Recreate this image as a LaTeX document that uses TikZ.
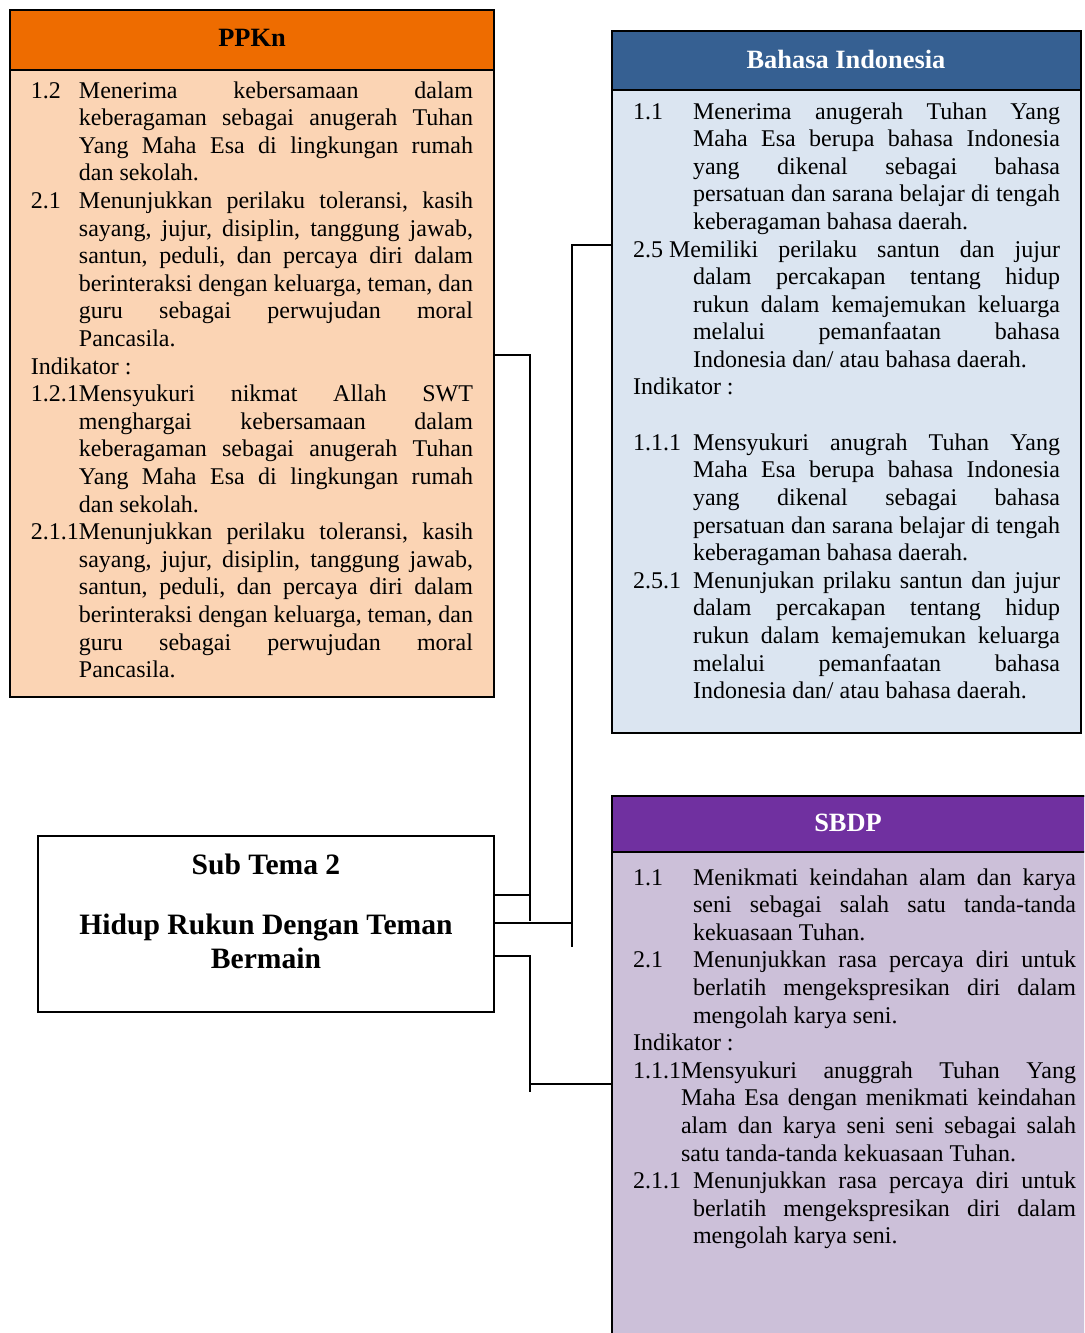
\documentclass[tikz,border=0pt]{standalone}
\usepackage{fontspec}
\setmainfont{Liberation Serif}

\definecolor{ppkhead}{RGB}{238,108,0}
\definecolor{ppkbody}{RGB}{251,212,180}
\definecolor{bihead}{RGB}{54,96,146}
\definecolor{bibody}{RGB}{219,229,241}
\definecolor{sbhead}{RGB}{112,48,160}
\definecolor{sbbody}{RGB}{204,192,217}

% line-by-line justified text blocks
\newlength\bw
\newlength\hi
\newcommand\bodyfont{\fontsize{12pt}{13.8pt}\selectfont\frenchspacing}
\newcommand\fl[2]{\hbox to\bw{\hbox to\hi{#1\hss}#2}}   % numbered line, justified
\newcommand\fe[2]{\hbox{\hbox to\hi{#1\hss}#2}}         % numbered line, ragged
\newcommand\cl[1]{\hbox to\bw{\hskip\hi #1}}            % hanging line, justified
\newcommand\ce[1]{\hbox{\hskip\hi #1}}                  % hanging line, ragged
\newcommand\jl[1]{\hbox to\bw{#1}}                      % full line, justified
\newcommand\pl[1]{\hbox{#1}}                            % full line, ragged

\begin{document}
\begin{tikzpicture}[x=0.5pt,y=-0.5pt,
  box/.style={draw=black,line width=1pt,inner sep=0pt,outer sep=0pt,anchor=north west},
  txt/.style={anchor=base west,inner sep=0pt,outer sep=0pt},
  title/.style={inner sep=0pt,font=\fontsize{13.2pt}{15pt}\selectfont\bfseries},
  subt/.style={anchor=base,inner sep=0pt,font=\fontsize{14.8pt}{17pt}\selectfont\bfseries},
  link/.style={draw=black,line width=1pt}]
\useasboundingbox (0,0) rectangle (1084,1333);
\clip (0,0) rectangle (1084,1333);

% ---------- PPKn ----------
\node[box,fill=ppkbody,minimum width=242pt,minimum height=343.5pt] (ppkn) at (10,10) {};
\node[box,fill=ppkhead,minimum width=242pt,minimum height=30pt] (ppknhead) at (10,10) {};
\node[title] (ppkntitle) at (252,38) {PPKn};
\node[txt] (ppkntext) at (31,98) {\vtop{\bodyfont\setlength\bw{221pt}\setlength\hi{24pt}%
\fl{1.2}{Menerima kebersamaan dalam}
\cl{keberagaman sebagai anugerah Tuhan}
\cl{Yang Maha Esa di lingkungan rumah}
\ce{dan sekolah.}
\fl{2.1}{Menunjukkan perilaku toleransi, kasih}
\cl{sayang, jujur, disiplin, tanggung jawab,}
\cl{santun, peduli, dan percaya diri dalam}
\cl{berinteraksi dengan keluarga, teman, dan}
\cl{guru sebagai perwujudan moral}
\ce{Pancasila.}
\pl{Indikator :}
\fl{1.2.1}{Mensyukuri nikmat Allah SWT}
\cl{menghargai kebersamaan dalam}
\cl{keberagaman sebagai anugerah Tuhan}
\cl{Yang Maha Esa di lingkungan rumah}
\ce{dan sekolah.}
\fl{2.1.1}{Menunjukkan perilaku toleransi, kasih}
\cl{sayang, jujur, disiplin, tanggung jawab,}
\cl{santun, peduli, dan percaya diri dalam}
\cl{berinteraksi dengan keluarga, teman, dan}
\cl{guru sebagai perwujudan moral}
\ce{Pancasila.}}};

% ---------- Bahasa Indonesia ----------
\node[box,fill=bibody,minimum width=234.5pt,minimum height=351pt] (bahasa) at (612,31) {};
\node[box,fill=bihead,minimum width=234.5pt,minimum height=29.5pt] (bahasahead) at (612,31) {};
\node[title,text=white] (bahasatitle) at (846,59) {Bahasa Indonesia};
\node[txt] (bahasatext) at (633,119) {\vtop{\bodyfont\setlength\bw{213.5pt}\setlength\hi{30pt}%
\fl{1.1}{Menerima anugerah Tuhan Yang}
\cl{Maha Esa berupa bahasa Indonesia}
\cl{yang dikenal sebagai bahasa}
\cl{persatuan dan sarana belajar di tengah}
\ce{keberagaman bahasa daerah.}
\jl{\hbox{2.5 Memiliki} perilaku santun dan jujur}
\cl{dalam percakapan tentang hidup}
\cl{rukun dalam kemajemukan keluarga}
\cl{melalui pemanfaatan bahasa}
\ce{Indonesia dan/ atau bahasa daerah.}
\pl{Indikator :}
\pl{\strut}
\fl{1.1.1}{Mensyukuri anugrah Tuhan Yang}
\cl{Maha Esa berupa bahasa Indonesia}
\cl{yang dikenal sebagai bahasa}
\cl{persatuan dan sarana belajar di tengah}
\ce{keberagaman bahasa daerah.}
\fl{2.5.1}{Menunjukan prilaku santun dan jujur}
\cl{dalam percakapan tentang hidup}
\cl{rukun dalam kemajemukan keluarga}
\cl{melalui pemanfaatan bahasa}
\ce{Indonesia dan/ atau bahasa daerah.}}};

% ---------- SBDP ----------
\node[box,fill=sbbody,minimum width=240pt,minimum height=274.5pt] (sbdp) at (612,796) {};
\node[box,fill=sbhead,minimum width=240pt,minimum height=28pt] (sbdphead) at (612,796) {};
\node[title,text=white] (sbdptitle) at (848,823) {SBDP};
\node[txt] (sbdptext) at (633,885) {\vtop{\bodyfont\setlength\bw{221.5pt}\setlength\hi{30pt}%
\fl{1.1}{Menikmati keindahan alam dan karya}
\cl{seni sebagai salah satu tanda-tanda}
\ce{kekuasaan Tuhan.}
\fl{2.1}{Menunjukkan rasa percaya diri untuk}
\cl{berlatih mengekspresikan diri dalam}
\ce{mengolah karya seni.}
\pl{Indikator :}
\setlength\hi{24pt}%
\fl{1.1.1}{Mensyukuri anuggrah Tuhan Yang}
\cl{Maha Esa dengan menikmati keindahan}
\cl{alam dan karya seni seni sebagai salah}
\ce{satu tanda-tanda kekuasaan Tuhan.}
\setlength\hi{30pt}%
\fl{2.1.1}{Menunjukkan rasa percaya diri untuk}
\cl{berlatih mengekspresikan diri dalam}
\ce{mengolah karya seni.}}};

% ---------- Sub Tema ----------
\node[box,fill=white,minimum width=228pt,minimum height=88pt] (sub) at (38,836) {};
\node[subt] (subnum) at (266,874.6) {Sub Tema 2};
\node[subt] (subname) at (266,934.6) {Hidup Rukun Dengan Teman};
\node[subt] (subname2) at (266,968.6) {Bermain};

% ---------- connectors ----------
\coordinate (yP) at (0,355);
\coordinate (bP) at (530,921);
\coordinate (ySa) at (0,895);
\draw[link] (ppkn.east |- yP) -| (bP);
\draw[link] (sub.east |- ySa) -- (bP |- ySa);

\coordinate (yB) at (0,245);
\coordinate (bB) at (572,947);
\coordinate (ySb) at (0,923);
\draw[link] (bahasa.west |- yB) -| (bB);
\draw[link] (sub.east |- ySb) -- (bB |- ySb);

\coordinate (ySc) at (0,956);
\coordinate (bS) at (530,1092);
\coordinate (yS) at (0,1084);
\draw[link] (sub.east |- ySc) -| (bS);
\draw[link] (bS |- yS) -- (sbdp.west |- yS);
\end{tikzpicture}
\end{document}
